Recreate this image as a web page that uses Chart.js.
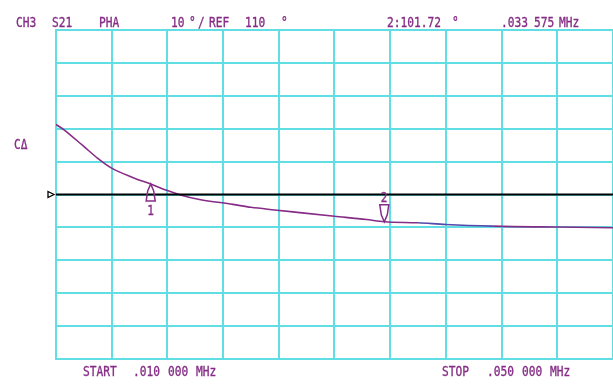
<!DOCTYPE html>
<html>
<head>
<meta charset="utf-8">
<script src="https://cdn.jsdelivr.net/npm/chart.js@4.4.1/dist/chart.umd.min.js"></script>
<style>
  html, body { margin: 0; padding: 0; background: #fff; }
  canvas { display: block; }
</style>
</head>
<body>
<canvas id="grafica" width="613" height="385"></canvas>
<script>
// traza fase S21 (MHz, grados)
const frecuencias = [0.0100, 0.0106, 0.0110, 0.0120, 0.0130, 0.0140, 0.0155, 0.0168, 0.0180, 0.0190, 0.0203,
                     0.0227, 0.0240, 0.0257, 0.0275, 0.0300, 0.0323, 0.033575, 0.0360, 0.0380, 0.0414, 0.0460, 0.0500];
const fases = [131.3, 129.6, 128.2, 124.6, 121.0, 118.0, 115.2, 113.2, 111.2, 109.8, 108.5,
               107.0, 106.1, 105.3, 104.5, 103.4, 102.4, 101.72, 101.4, 100.9, 100.4, 100.1, 99.9];

const ticksX = [0.010, 0.014, 0.018, 0.022, 0.026, 0.030, 0.034, 0.038, 0.042, 0.046, 0.050];
const ticksY = [60, 70, 80, 90, 100, 110, 120, 130, 140, 150, 160];

const referencia = 110;
const marcadores = [
  { num: '1', frec: 0.0168, valor: 113.2, arriba: true },
  { num: '2', frec: 0.033575, valor: 101.72, arriba: false }
];

const morado = 'rgb(134,44,134)';
const cian = 'rgb(96,222,228)';

function texto(ctx, str, x, y) {
  ctx.save();
  ctx.translate(x, y);
  ctx.scale(0.8, 1);
  ctx.fillText(str, 0, 0);
  ctx.strokeText(str, 0, 0);
  ctx.restore();
}

const anotaciones = {
  id: 'anotaciones',
  afterDraw(chart) {
    const ctx = chart.ctx;
    const sx = chart.scales.x, sy = chart.scales.y;

    // flecha de referencia a la izquierda
    const yr = sy.getPixelForValue(referencia);
    ctx.save();
    ctx.strokeStyle = '#000';
    ctx.lineWidth = 1.3;
    ctx.beginPath();
    ctx.moveTo(48, yr - 3);
    ctx.lineTo(54, yr);
    ctx.lineTo(48, yr + 3);
    ctx.closePath();
    ctx.stroke();

    // marcadores
    ctx.strokeStyle = morado;
    ctx.fillStyle = morado;
    ctx.lineWidth = 1.5;
    marcadores.forEach(m => {
      const px = sx.getPixelForValue(m.frec);
      const py = sy.getPixelForValue(m.valor);
      const d = m.arriba ? 1 : -1;
      ctx.beginPath();
      ctx.moveTo(px, py);
      ctx.lineTo(px - 3, py + d * 7);
      ctx.lineTo(px - 4.5, py + d * 17);
      ctx.lineTo(px + 4.5, py + d * 17);
      ctx.lineTo(px + 3, py + d * 7);
      ctx.closePath();
      ctx.stroke();
    });

    ctx.font = '14px "DejaVu Sans Mono"';
    ctx.lineWidth = 0.35;
    ctx.textBaseline = 'alphabetic';
    marcadores.forEach(m => {
      const px = sx.getPixelForValue(m.frec);
      const py = sy.getPixelForValue(m.valor);
      if (m.arriba) texto(ctx, m.num, px - 3.5, py + 31);
      else texto(ctx, m.num, px - 3.5, py - 20);
    });

    // textos del analizador
    const fila1 = 27, fila2 = 376;
    [['CH3', 16], ['S21', 52], ['PHA', 99], ['10', 171], ['°', 189], ['/', 198], ['REF', 209], ['110', 245], ['°', 281],
     ['2:101.72', 387], ['°', 452], ['.033', 501], ['575', 534], ['MHz', 559]]
      .forEach(([s, x]) => texto(ctx, s, x, fila1));
    [['START', 83], ['.010', 133], ['000', 168], ['MHz', 196],
     ['STOP', 442], ['.050', 487], ['000', 522], ['MHz', 550]]
      .forEach(([s, x]) => texto(ctx, s, x, fila2));
    texto(ctx, 'CΔ', 14, 149);
    ctx.restore();
  }
};

const puntos = frecuencias.map((f, i) => ({ x: f, y: fases[i] }));

new Chart(document.getElementById('grafica').getContext('2d'), {
  type: 'line',
  data: {
    datasets: [
      {
        data: [{ x: ticksX[0], y: referencia }, { x: ticksX[ticksX.length - 1], y: referencia }],
        borderColor: '#000',
        borderWidth: 2,
        pointRadius: 0
      },
      {
        data: puntos,
        borderColor: morado,
        borderWidth: 1.6,
        pointRadius: 0,
        cubicInterpolationMode: 'monotone',
        segment: {
          borderColor: c => (c.p0.parsed.x >= 0.036 && c.p1.parsed.x <= 0.0414) ? 'rgb(84,72,170)' : undefined
        }
      }
    ]
  },
  options: {
    responsive: false,
    animation: false,
    layout: { padding: { left: 56, top: 30, right: 0, bottom: 26 } },
    plugins: { legend: { display: false }, tooltip: { enabled: false } },
    scales: {
      x: {
        type: 'linear',
        min: ticksX[0],
        max: ticksX[ticksX.length - 1],
        afterBuildTicks: ax => { ax.ticks = ticksX.map(v => ({ value: v })); },
        ticks: { display: false },
        grid: { color: cian, lineWidth: 2, drawTicks: false },
        border: { color: cian, width: 2 }
      },
      y: {
        min: ticksY[0],
        max: ticksY[ticksY.length - 1],
        afterBuildTicks: ax => { ax.ticks = ticksY.map(v => ({ value: v })); },
        ticks: { display: false },
        grid: { color: cian, lineWidth: 2, drawTicks: false },
        border: { color: cian, width: 2 }
      }
    }
  },
  plugins: [anotaciones]
});
</script>
</body>
</html>
